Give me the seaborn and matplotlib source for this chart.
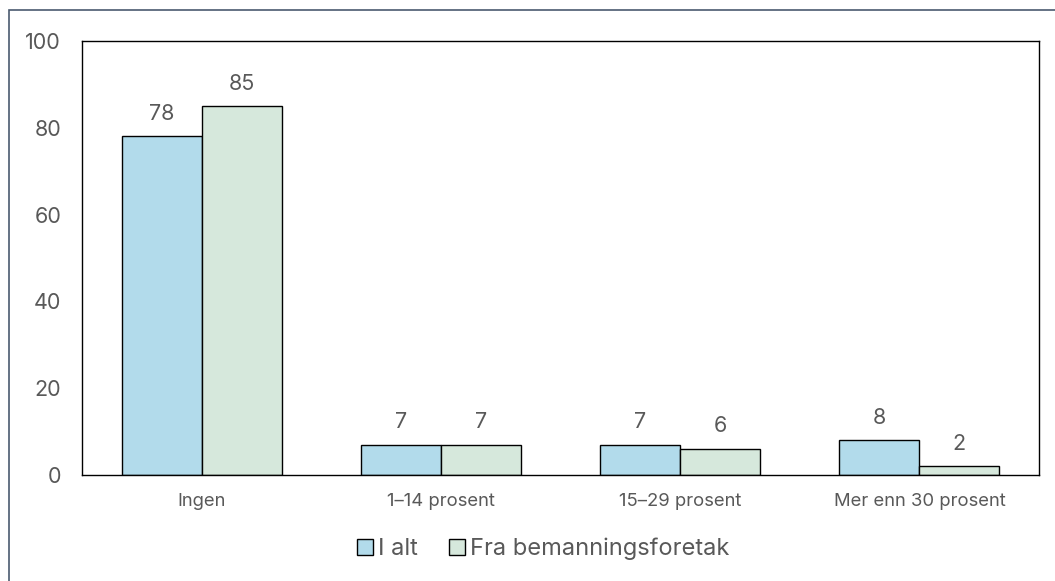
import pandas as pd
import seaborn as sns
import matplotlib.pyplot as plt
from matplotlib.patches import Rectangle

categories = ['Ingen', '1–14 prosent', '15–29 prosent', 'Mer enn 30 prosent']
series = ['I alt', 'Fra bemanningsforetak']
i_alt = [78, 7, 7, 8]
fra_bemanning = [85, 7, 6, 2]

df = pd.DataFrame({
    'Kategori': categories * 2,
    'Serie': [series[0]] * 4 + [series[1]] * 4,
    'Verdi': i_alt + fra_bemanning,
})

sns.set_theme(style="white")
plt.rcParams['font.family'] = ['Inter', 'DejaVu Sans']
grey = '#595959'
colors = ['#b2dbeb', '#d6e8dc']

fig = plt.figure(figsize=(10.55, 5.81), dpi=100)
ax = fig.add_axes([82 / 1055, 1 - 475 / 581, (1039 - 82) / 1055, (475 - 41) / 581])

sns.barplot(data=df, x='Kategori', y='Verdi', hue='Serie', palette=colors,
            width=0.668, edgecolor='black', linewidth=1, saturation=1, ax=ax)

for c in ax.containers:
    ax.bar_label(c, padding=9, fontsize=15.5, color=grey)

ax.set_ylim(0, 100)
ax.set_yticks([0, 20, 40, 60, 80, 100])
ax.set_xlabel('')
ax.set_ylabel('')
ax.tick_params(axis='y', labelsize=15.5, labelcolor=grey, length=0, pad=15)
ax.tick_params(axis='x', labelsize=13.3, labelcolor=grey, length=0, pad=13)
for s in ax.spines.values():
    s.set_color('black')
    s.set_linewidth(1)

ax.legend(loc='center', bbox_to_anchor=(543 / 1055, 1 - 549 / 581),
          bbox_transform=fig.transFigure, ncol=2, frameon=False,
          fontsize=17, labelcolor=grey, handlelength=0.7, handleheight=0.7,
          handletextpad=0.2, columnspacing=1.3)

fig.patches.append(Rectangle((9 / 1055, -0.1), 1.2, 1 - 10 / 581 + 0.1,
                             transform=fig.transFigure, fill=False,
                             edgecolor='#4a5a70', linewidth=1.2))

fig.savefig('out.png', dpi=100)
